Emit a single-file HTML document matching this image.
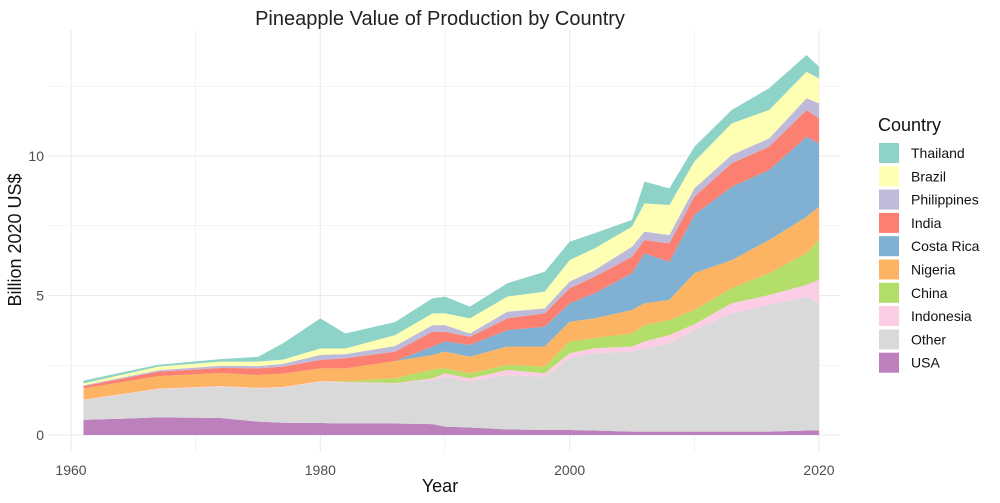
<!DOCTYPE html>
<html><head><meta charset="utf-8"><style>
body{margin:0;background:#fff;}
svg{display:block;font-family:"Liberation Sans",sans-serif;}
</style></head><body>
<svg id="chart" width="1000" height="503" viewBox="0 0 1000 503">
<text x="440" y="25" text-anchor="middle" font-size="20" fill="#222">Pineapple Value of Production by Country</text>
<g id="grid"></g>
<g id="areas"></g>
<g id="xticks"></g>
<g id="yticks"></g>
<text x="440" y="492" text-anchor="middle" font-size="18" fill="#111">Year</text>
<text transform="translate(21,240) rotate(-90)" text-anchor="middle" font-size="18" fill="#111">Billion 2020 US$</text>
<g id="legend">
<text x="878" y="131" font-size="18" fill="#111">Country</text>
</g>
</svg>
<script>
const years=[1961,1967,1972,1975,1977,1980,1982,1986,1989,1990,1992,1995,1998,2000,2002,2005,2006,2008,2010,2013,2016,2019,2020];
const usa=[.54,.63,.61,.48,.44,.43,.41,.41,.39,.30,.27,.20,.18,.18,.16,.12,.12,.12,.12,.12,.12,.16,.16];
const other=[.71,1.01,1.12,1.19,1.26,1.48,1.46,1.43,1.58,1.79,1.64,1.95,1.91,2.57,2.77,2.87,2.99,3.17,3.64,4.24,4.54,4.80,4.56];
const indonesia=[.02,.02,.02,.02,.02,.02,.03,.02,.06,.12,.12,.18,.12,.18,.18,.18,.24,.29,.21,.36,.36,.42,.84];
const china=[0,0,0,0,0,0,.03,.17,.32,.18,.18,.18,.24,.42,.36,.47,.59,.54,.51,.54,.78,1.13,1.43];
const nigeria=[.40,.45,.47,.46,.48,.46,.46,.62,.52,.60,.60,.66,.72,.71,.71,.84,.78,.72,1.32,1.01,1.19,1.31,1.19];
const costaRica=[0,0,0,0,0,0,0,0,.30,.36,.42,.59,.71,.66,.90,1.32,1.79,1.37,2.09,2.63,2.51,2.87,2.27];
const india=[.08,.16,.18,.24,.25,.30,.36,.34,.53,.35,.29,.42,.48,.54,.59,.59,.48,.66,.65,.84,.83,.96,.90];
const philippines=[.03,.05,.08,.08,.10,.18,.15,.20,.24,.24,.12,.24,.18,.24,.24,.36,.30,.30,.30,.30,.30,.42,.54];
const brazil=[.07,.13,.15,.16,.15,.23,.20,.39,.42,.42,.54,.54,.60,.77,.78,.72,1.01,1.07,.96,1.13,1.02,.95,.89];
const thailand=[.10,.07,.09,.17,.59,1.08,.54,.47,.54,.60,.42,.48,.71,.66,.54,.24,.78,.60,.53,.48,.78,.60,.42];
const seriesNames=["USA","Other","Indonesia","China","Nigeria","Costa Rica","India","Philippines","Brazil","Thailand"];
const xTicks=[1960,1980,2000,2020];
const yTicks=[0,5,10];

const series=[usa,other,indonesia,china,nigeria,costaRica,india,philippines,brazil,thailand];
const colors=["#bc80bd","#d9d9d9","#fccde5","#b3de69","#fdb462","#80b1d3","#fb8072","#bebada","#ffffb3","#8dd3c7"];
const NS="http://www.w3.org/2000/svg";
const x=v=>71+(v-1960)*(819-71)/60;
const y=v=>435-v*(435-156)/10;
function mk(tag,attrs,parent){const e=document.createElementNS(NS,tag);for(const k in attrs)e.setAttribute(k,attrs[k]);parent.appendChild(e);return e;}
const grid=document.getElementById('grid');
for(let yr=1960;yr<=2020;yr+=10){const l=mk('line',{x1:x(yr),x2:x(yr),y1:30,y2:452,stroke:'#ebebeb','stroke-width':yr%20===0?1.1:0.6},grid);

}
for(let v=0;v<=12.5;v+=2.5){const l=mk('line',{x1:48,x2:840,y1:y(v),y2:y(v),stroke:'#ebebeb','stroke-width':v%5===0?1.1:0.6},grid);

}
const areas=document.getElementById('areas');
let base=years.map(()=>0);
series.forEach((s,i)=>{
  const top=base.map((b,j)=>b+s[j]);
  let d='M'+years.map((yr,j)=>x(yr)+','+y(top[j])).join('L');
  for(let j=years.length-1;j>=0;j--)d+='L'+x(years[j])+','+y(base[j]);
  d+='Z';
  const p=mk('path',{d:d,fill:colors[i]},areas);
  
  
  base=top;
});
const xt=document.getElementById('xticks');
xTicks.forEach(t=>{const e=mk('text',{x:x(t),y:475,'text-anchor':'middle','font-size':14,fill:'#4d4d4d'},xt);e.textContent=t;

});
const yt=document.getElementById('yticks');
yTicks.forEach(t=>{const e=mk('text',{x:44,y:y(t)+5,'text-anchor':'end','font-size':14,fill:'#4d4d4d'},yt);e.textContent=t;

});
const lg=document.getElementById('legend');
for(let k=0;k<10;k++){const i=9-k;const yy=143+k*23.3;
const r=mk('rect',{x:879,y:yy,width:20,height:20,fill:colors[i]},lg);


const t=mk('text',{x:911,y:yy+15,'font-size':14,fill:'#111'},lg);t.textContent=seriesNames[i];

}
</script>
</body></html>
